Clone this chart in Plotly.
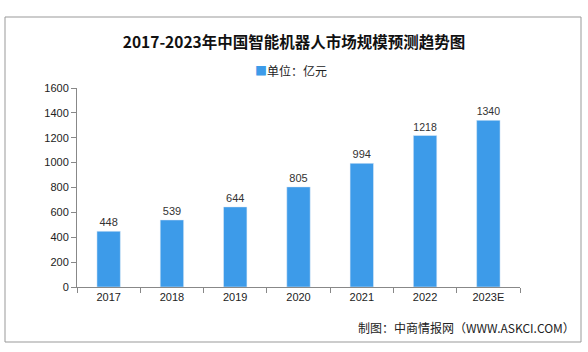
import plotly.graph_objects as go

years = ["2017", "2018", "2019", "2020", "2021", "2022", "2023E"]
values = [448, 539, 644, 805, 994, 1218, 1340]
y_ticks = [0, 200, 400, 600, 800, 1000, 1200, 1400, 1600]
series_name = "单位：亿元"
bar_color = "#3d9be9"

W, H = 588, 352
L, R, T, B = 77, 520, 88, 287

def px(x):
    return (x - L) / (R - L)

def py(y):
    return (B - y) / (B - T)

fig = go.Figure()
fig.add_trace(go.Bar(
    x=years, y=values, name=series_name,
    marker=dict(color=bar_color),
    width=0.37,
    text=[str(v) for v in values], textposition="outside",
    textfont=dict(size=11, color="#333333", family="Liberation Sans"),
    cliponaxis=False, showlegend=False,
))

fig.update_layout(
    width=W, height=H,
    margin=dict(l=L, r=W - R, t=T, b=H - B),
    paper_bgcolor="white", plot_bgcolor="white",
    title=dict(text="<b>2017-2023年中国智能机器人市场规模预测趋势图</b>",
               x=294 / W, xanchor="center", y=1 - 43 / H, yanchor="middle", yref="container",
               font=dict(size=15.5, color="#111111", family="Noto Sans CJK SC")),
    xaxis=dict(type="category", showline=True, linecolor="#888888", linewidth=1,
               ticks="outside", tickson="boundaries", ticklen=5, tickcolor="#888888",
               tickfont=dict(size=11, color="#222222", family="Liberation Sans"),
               showgrid=False),
    yaxis=dict(range=[0, 1600], tickvals=y_ticks, showline=True, linecolor="#888888", linewidth=1,
               ticks="outside", ticklen=5, tickcolor="#888888", showgrid=False, zeroline=False,
               tickfont=dict(size=11, color="#222222", family="Liberation Sans")),
    shapes=[dict(type="rect", xref="paper", yref="paper",
                 x0=px(5), x1=px(581), y0=py(342), y1=py(17),
                 line=dict(color="#999999", width=1), fillcolor="rgba(0,0,0,0)", layer="below")],
    annotations=[
        dict(text=f"<span style='color:{bar_color}'>■</span>{series_name}", xref="paper", yref="paper",
             x=px(291), y=py(70), xanchor="center", yanchor="middle", showarrow=False,
             font=dict(size=12, color="#222222", family="Noto Sans CJK SC")),
        dict(text="制图：中商情报网（WWW.ASKCI.COM）", xref="paper", yref="paper",
             x=px(577), y=py(327), xanchor="right", yanchor="middle", showarrow=False,
             font=dict(size=12, color="#222222", family="Noto Sans CJK SC")),
    ],
)

fig.write_html("out.html")
